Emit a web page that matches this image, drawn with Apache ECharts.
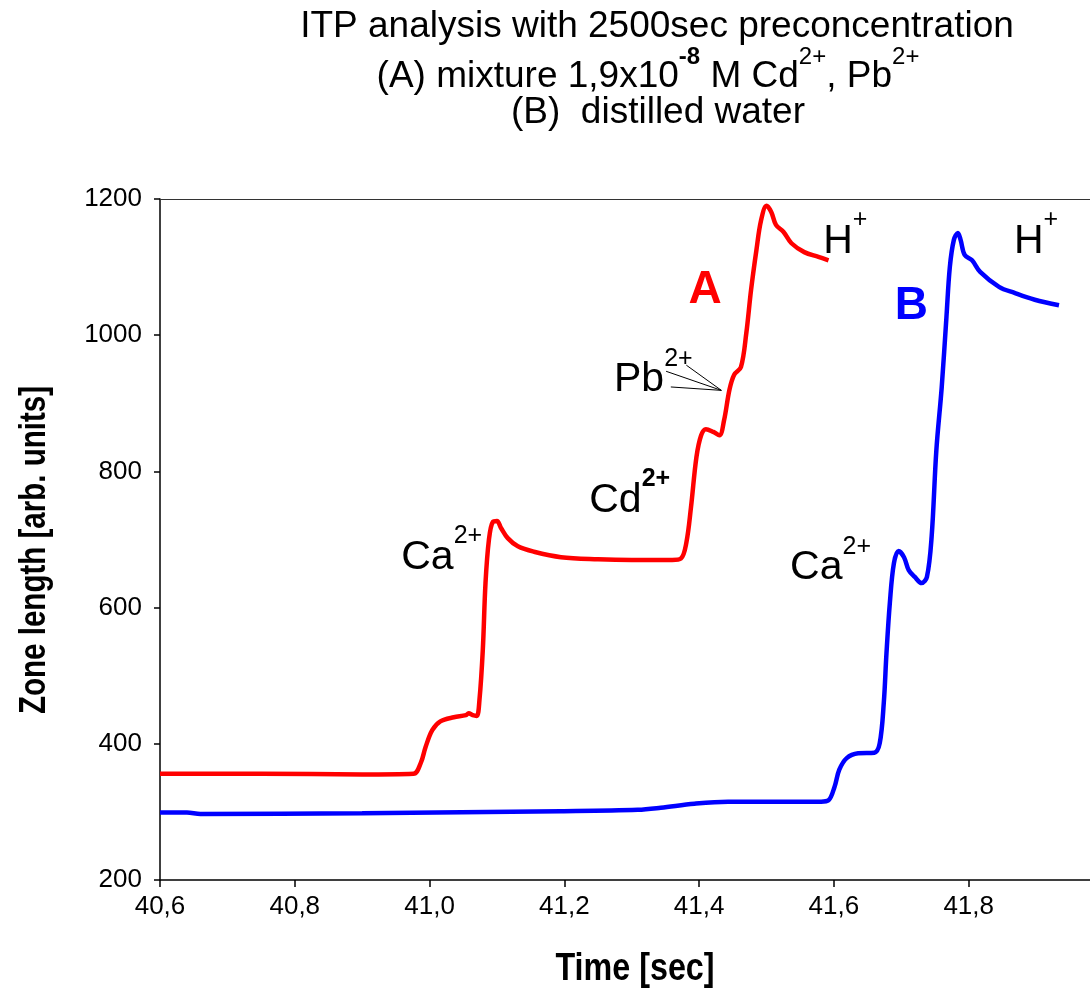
<!DOCTYPE html>
<html>
<head>
<meta charset="utf-8">
<script src="https://cdn.jsdelivr.net/npm/echarts@6/dist/echarts.min.js"></script>
<style>
html,body{margin:0;padding:0;background:#fff;}
#chart{width:1090px;height:990px;}
</style>
</head>
<body>
<div id="chart"></div>
<script>
// ---- data ----
var redT = [40.600, 40.750, 40.900, 40.976, 40.987, 40.994, 41.004, 41.016, 41.036, 41.054, 41.058, 41.064, 41.070, 41.074, 41.079, 41.083, 41.088, 41.094, 41.100, 41.106, 41.116, 41.131, 41.155, 41.195, 41.250, 41.300, 41.360, 41.373, 41.381, 41.388, 41.396, 41.403, 41.410, 41.421, 41.430, 41.437, 41.445, 41.452, 41.462, 41.470, 41.477, 41.485, 41.492, 41.500, 41.507, 41.514, 41.525, 41.537, 41.556, 41.577, 41.592];
var redV = [356, 356, 355, 356, 372, 395, 420, 433, 439, 442, 445, 442, 441, 464, 538, 636, 699, 726, 727, 717, 702, 690, 682, 674, 671, 670, 670, 672, 695, 748, 821, 853, 862, 858, 853, 875, 920, 942, 953, 1003, 1066, 1125, 1169, 1190, 1181, 1162, 1152, 1135, 1122, 1115, 1110];
var blueT = [40.600, 40.640, 40.660, 40.900, 41.195, 41.309, 41.343, 41.393, 41.443, 41.500, 41.581, 41.592, 41.601, 41.608, 41.619, 41.636, 41.660, 41.668, 41.674, 41.678, 41.683, 41.689, 41.696, 41.704, 41.711, 41.720, 41.730, 41.738, 41.745, 41.752, 41.760, 41.767, 41.772, 41.778, 41.784, 41.788, 41.794, 41.805, 41.817, 41.845, 41.868, 41.898, 41.934];
var blueV = [299, 299, 297, 298, 301, 303, 306, 312, 315, 315, 315, 317, 337, 362, 379, 386, 387, 401, 460, 533, 607, 665, 683, 674, 655, 645, 636, 645, 704, 831, 924, 1027, 1100, 1140, 1150, 1140, 1118, 1110, 1093, 1071, 1062, 1052, 1044];

var xTicks = [40.6, 40.8, 41.0, 41.2, 41.4, 41.6, 41.8];
var yTicks = [200, 400, 600, 800, 1000, 1200];

var titleLines = ['ITP analysis with 2500sec preconcentration', '(A) mixture 1,9x10', '(B)  distilled water'];
var xName = 'Time [sec]';
var yName = 'Zone length [arb. units]';

// annotations (label text, anchor in data coordinates)
var annText = ['{b|Ca}{s|2+}', '{b|Cd}{sb|2+}', '{b|Pb}{s|2+}', '{b|H}{s|+}', '{b|H}{s|+}', '{b|Ca}{s|2+}', '{ra|A}', '{bb|B}'];
var annX = [41.018, 41.297, 41.332, 41.617, 41.900, 41.595, 41.409, 41.715];
var annY = [683, 767, 944, 1147, 1147, 668, 1066, 1043];

// Pb pointer lines
var pbFromX = [41.381, 41.351, 41.358];
var pbFromY = [956, 947, 924];
var pbToX = 41.433, pbToY = 919;

// ---- chart ----
var FONT = '"Liberation Sans", Arial, sans-serif';
var chart = echarts.init(document.getElementById('chart'), null, {renderer: 'canvas'});

function zip(a, b) { return a.map(function (v, i) { return [v, b[i]]; }); }

var annData = annText.map(function (t, i) {
  return {value: [annX[i], annY[i]], label: {formatter: t}};
});
var pbLines = pbFromX.map(function (x, i) {
  return {coords: [[x, pbFromY[i]], [pbToX, pbToY]]};
});

var noBorder = {textBorderWidth: 0, textShadowBlur: 0, opacity: 1};
function rs(o) { return Object.assign({}, noBorder, o); }
var baseRich = {
  b: rs({fontSize: 41, lineHeight: 54, verticalAlign: 'bottom', fontFamily: FONT, color: '#000'}),
  s: rs({fontSize: 25, lineHeight: 10, verticalAlign: 'top', fontFamily: FONT, color: '#000'}),
  sb: rs({fontSize: 25, lineHeight: 10, verticalAlign: 'top', fontWeight: 'bold', fontFamily: FONT, color: '#000'}),
  ra: rs({fontSize: 46, fontWeight: 'bold', fontFamily: FONT, color: '#ff0000'}),
  bb: rs({fontSize: 46, fontWeight: 'bold', fontFamily: FONT, color: '#0000ff'})
};

var option = {
  backgroundColor: '#fff',
  animation: false,
  grid: {left: 160, right: 0, top: 199, bottom: 110, show: false},
  xAxis: [{
    type: 'value', min: 40.6, max: 41.98, interval: 0.2,
    axisLine: {show: true, lineStyle: {color: '#000', width: 1.5}},
    axisTick: {show: true, length: 7, customValues: xTicks, lineStyle: {color: '#000', width: 1.5}},
    splitLine: {show: false},
    axisLabel: {
      margin: 14, fontSize: 26, color: '#000', fontFamily: FONT, customValues: xTicks,
      formatter: function (v) { return v.toFixed(1).replace('.', ','); }
    }
  }, {
    type: 'value', position: 'top', min: 40.6, max: 41.98,
    axisLine: {show: true, onZero: false, lineStyle: {color: '#333', width: 1}},
    axisTick: {show: false}, axisLabel: {show: false}, splitLine: {show: false}
  }],
  yAxis: {
    type: 'value', min: 200, max: 1200, interval: 200,
    axisLine: {show: true, lineStyle: {color: '#000', width: 1.5}},
    axisTick: {show: true, length: 6, lineStyle: {color: '#000', width: 1.5}},
    splitLine: {show: false},
    axisLabel: {
      margin: 18, fontSize: 26, color: '#000', fontFamily: FONT,
      formatter: function (v) { return yTicks.indexOf(v) >= 0 ? String(v) : ''; }
    }
  },
  series: [
    {type: 'line', name: 'A', data: zip(redT, redV), showSymbol: false, smooth: 0.35,
     lineStyle: {color: '#ff0000', width: 4.5}, itemStyle: {color: '#ff0000'}, z: 3},
    {type: 'line', name: 'B', data: zip(blueT, blueV), showSymbol: false, smooth: 0.35,
     lineStyle: {color: '#0000ff', width: 4.5}, itemStyle: {color: '#0000ff'}, z: 3},
    {type: 'lines', coordinateSystem: 'cartesian2d', data: pbLines, silent: true,
     lineStyle: {color: '#000', width: 1, opacity: 1, curveness: 0}, z: 4},
    {type: 'scatter', data: annData, symbolSize: 0, silent: true, z: 5,
     itemStyle: {opacity: 1},
     label: {show: true, position: 'inside', align: 'center', verticalAlign: 'middle', color: '#000',
             opacity: 1, textBorderWidth: 0, textShadowBlur: 0, rich: baseRich}}
  ],
  graphic: [
    {type: 'text', x: 657, y: 27, style: {text: titleLines[0], fontSize: 37, fontFamily: FONT, fill: '#000', align: 'center', verticalAlign: 'middle'}},
    {type: 'text', x: 648, y: 70, style: {
      text: '{t|' + titleLines[1] + '}{sb|-8}{t| M Cd}{s|2+}{t|, Pb}{s|2+}',
      align: 'center', verticalAlign: 'middle',
      rich: {
        t: {fontSize: 37, lineHeight: 50, verticalAlign: 'bottom', fontFamily: FONT, fill: '#000'},
        s: {fontSize: 24, lineHeight: 12, verticalAlign: 'top', fontFamily: FONT, fill: '#000'},
        sb: {fontSize: 24, lineHeight: 12, verticalAlign: 'top', fontWeight: 'bold', fontFamily: FONT, fill: '#000'}
      }}},
    {type: 'text', x: 658, y: 113, style: {text: titleLines[2], fontSize: 37, fontFamily: FONT, fill: '#000', align: 'center', verticalAlign: 'middle'}},
    {type: 'text', x: 35, y: 550, rotation: Math.PI / 2, scaleX: 0.82, style: {text: yName, fontSize: 36, fontWeight: 'bold', fontFamily: FONT, fill: '#000', align: 'center', verticalAlign: 'middle'}},
    {type: 'text', x: 635, y: 970, scaleX: 0.85, style: {text: xName, fontSize: 38, fontWeight: 'bold', fontFamily: FONT, fill: '#000', align: 'center', verticalAlign: 'middle'}}
  ]
};
chart.setOption(option);
</script>
</body>
</html>
